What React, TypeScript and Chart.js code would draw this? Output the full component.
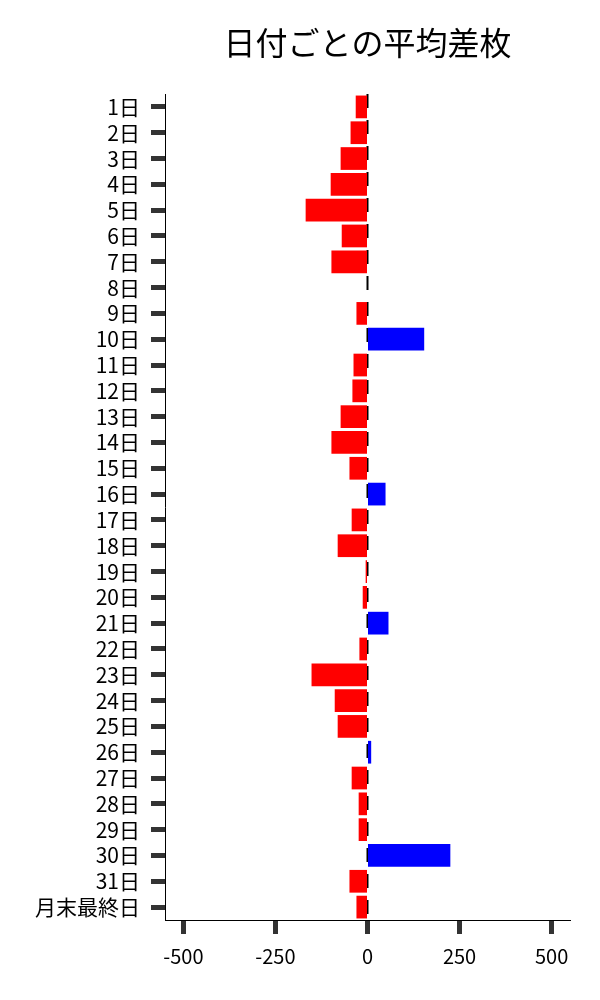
import React, { useEffect, useRef } from "react";
import { Chart, registerables } from "chart.js";

Chart.register(...registerables);

const TITLE = "日付ごとの平均差枚";

const categories = [
  "1日", "2日", "3日", "4日", "5日", "6日", "7日", "8日", "9日", "10日",
  "11日", "12日", "13日", "14日", "15日", "16日", "17日", "18日", "19日", "20日",
  "21日", "22日", "23日", "24日", "25日", "26日", "27日", "28日", "29日", "30日",
  "31日", "月末最終日",
];

const values = [
  -32, -46, -73, -100, -168, -70, -98, 0, -30, 154,
  -38, -41, -73, -98, -49, 49, -43, -81, -5, -13,
  57, -22, -152, -89, -81, 10, -43, -24, -24, 225,
  -49, -30,
];

const xTicks = [-500, -250, 0, 250, 500];
const xMin = -550;
const xMax = 550;

const FONT = "'Noto Sans CJK JP', 'Noto Sans', sans-serif";

const zeroLinePlugin = {
  id: "zeroLine",
  beforeDatasetsDraw(chart: any) {
    const { ctx, chartArea, scales } = chart;
    const x = scales.x.getPixelForValue(0);
    ctx.save();
    ctx.strokeStyle = "#000";
    ctx.lineWidth = 2;
    ctx.setLineDash([14, 12]);
    ctx.beginPath();
    ctx.moveTo(x, chartArea.top);
    ctx.lineTo(x, chartArea.bottom);
    ctx.stroke();
    ctx.restore();
  },
};

const titlePlugin = {
  id: "centeredTitle",
  afterDraw(chart: any) {
    const { ctx, chartArea } = chart;
    ctx.save();
    ctx.fillStyle = "#000";
    ctx.font = `32px ${FONT}`;
    ctx.textAlign = "center";
    ctx.textBaseline = "middle";
    ctx.fillText(TITLE, (chartArea.left + chartArea.right) / 2, 35);
    ctx.restore();
  },
};

export default function App() {
  const ref = useRef<HTMLCanvasElement>(null);

  useEffect(() => {
    if (!ref.current) return;
    const chart = new Chart(ref.current, {
      type: "bar",
      data: {
        labels: categories,
        datasets: [
          {
            data: values,
            backgroundColor: values.map((v) => (v >= 0 ? "#0000ff" : "#ff0000")),
            borderWidth: 0,
            barPercentage: 0.88,
            categoryPercentage: 1,
          },
        ],
      },
      options: {
        indexAxis: "y",
        responsive: false,
        animation: false,
        layout: { padding: { top: 86, right: 22, bottom: 0, left: 0 } },
        plugins: {
          legend: { display: false },
          title: { display: false },
          tooltip: { enabled: false },
        },
        scales: {
          x: {
            type: "linear",
            min: xMin,
            max: xMax,
            afterBuildTicks: (scale: any) => {
              scale.ticks = xTicks.map((v) => ({ value: v }));
            },
            afterFit: (scale: any) => {
              scale.height = 72;
            },
            grid: {
              drawOnChartArea: false,
              drawTicks: true,
              tickLength: 14,
              tickWidth: 5,
              tickColor: "#333",
            },
            border: { display: true, color: "#000", width: 1 },
            ticks: {
              color: "#000",
              padding: 10,
              font: { family: FONT, size: 20 },
              maxRotation: 0,
            },
          },
          y: {
            type: "category",
            offset: true,
            afterFit: (scale: any) => {
              scale.width = 157;
            },
            grid: {
              offset: false,
              drawOnChartArea: false,
              drawTicks: true,
              tickLength: 14,
              tickWidth: 5,
              tickColor: "#333",
            },
            border: { display: true, color: "#000", width: 1 },
            ticks: {
              color: "#000",
              padding: 11,
              autoSkip: false,
              font: { family: FONT, size: 21 },
            },
          },
        },
      },
      plugins: [zeroLinePlugin, titlePlugin],
    });
    return () => chart.destroy();
  }, []);

  return (
    <div style={{ width: 584, height: 984 }}>
      <canvas ref={ref} width={584} height={984} style={{ display: "block" }} />
    </div>
  );
}
